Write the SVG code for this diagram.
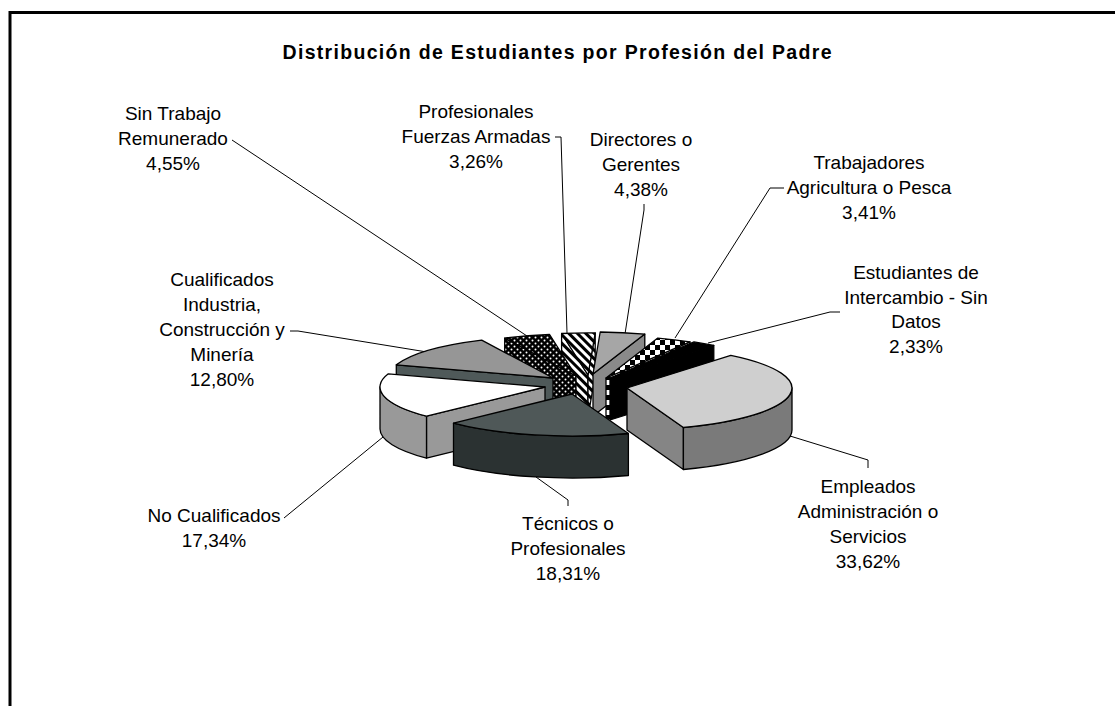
<svg xmlns="http://www.w3.org/2000/svg" width="1115" height="706" viewBox="0 0 1115 706">
<style>
.lbl{font-family:"Liberation Sans",Arial,sans-serif;font-size:19px;fill:#000;text-anchor:middle}
.ttl{font-family:"Liberation Sans",Arial,sans-serif;font-size:19.5px;font-weight:bold;fill:#000;text-anchor:middle}
.e{stroke:#000;stroke-width:1.3;stroke-linejoin:round}
.lead{fill:none;stroke:#000;stroke-width:1}
</style>
<defs>
<pattern id="dots" width="6" height="6" patternUnits="userSpaceOnUse">
<rect width="6" height="6" fill="#000"/>
<circle cx="1.5" cy="1.5" r="1" fill="#fff"/>
<circle cx="4.5" cy="4.5" r="1" fill="#fff"/>
</pattern>
<pattern id="hatch" width="6" height="6" patternUnits="userSpaceOnUse" patternTransform="rotate(45)">
<rect width="6" height="6" fill="#fff"/>
<rect width="6" height="3" fill="#000"/>
</pattern>
<pattern id="check" width="10" height="10" patternUnits="userSpaceOnUse">
<rect width="10" height="10" fill="#fff"/>
<rect width="5" height="5" fill="#000"/>
<rect x="5" y="5" width="5" height="5" fill="#000"/>
</pattern>
</defs>
<rect x="10" y="12.5" width="1200" height="800" fill="#fff" stroke="#000" stroke-width="3"/>
<text class="ttl" x="557" y="59" textLength="549" lengthAdjust="spacing">Distribución de Estudiantes por Profesión del Padre</text>

<g id="connectors">
<polyline class="lead" points="232,140 527,336"/>
<polyline class="lead" points="555,137 561,137 567,333"/>
<polyline class="lead" points="644,204 644,210 625,334"/>
<polyline class="lead" points="784,188 770,188 675,338"/>
<polyline class="lead" points="840,312 830,312 708,343"/>
<polyline class="lead" points="790,436 868,460 868,468"/>
<polyline class="lead" points="536,477 568,500 568,506"/>
<polyline class="lead" points="284,518 383,437"/>
<polyline class="lead" points="290,331 298,331 427,352"/>
</g>

<g id="slice-prof-fa">
<path class="e" fill="url(#hatch)" d="M588,375 L561.6,333.5 L561.6,375.5 L588,417 Z"/>
<path class="e" fill="url(#hatch)" d="M588,375 L595.2,333 L595.2,375 L588,417 Z"/>
<path class="e" fill="url(#hatch)" d="M588,375 L561.6,333.5 A165 42 0 0 1 595.2,333 Z"/>
</g>
<g id="slice-directores">
<path class="e" fill="#8a8a8a" d="M593,374 L644.8,334.1 L644.8,376.1 L593,416 Z"/>
<path class="e" fill="#a6a6a6" d="M593,374 L600.2,332 A165 42 0 0 1 644.8,334.1 Z"/>
</g>
<g id="slice-sin-trabajo">
<path class="e" fill="url(#dots)" d="M576,376 L504.7,338.1 L504.7,380.1 L576,418 Z"/>
<path class="e" fill="url(#dots)" d="M576,376 L504.7,338.1 A165 42 0 0 1 549.6,334.5 Z"/>
</g>
<g id="slice-trabajadores">
<path class="e" fill="url(#check)" d="M606,378 L690,341.9 L690,383.9 L606,420 Z"/>
<path class="e" fill="url(#check)" d="M606,378 L657.8,338.1 A165 42 0 0 1 690,341.9 Z"/>
</g>
<g id="slice-estudiantes">
<path class="e" fill="#000" d="M610,378 L713.8,345.4 L713.8,387.4 L610,420 Z"/>
<path class="e" fill="#000" d="M610,378 L694,341.9 A165 42 0 0 1 713.8,345.4 Z"/>
</g>
<g id="slice-cualificados">
<path class="e" fill="#4f5959" d="M553,378 L396.3,364.8 L396.3,406.8 L553,420 Z"/>
<path class="e" fill="#969696" d="M553,378 L396.3,364.8 A165 42 0 0 1 481.7,340.1 Z"/>
</g>
<g id="slice-empleados">
<path class="e" fill="#858585" d="M627,388 L683.4,427.5 L683.4,469.5 L627,430 Z"/>
<path class="e" fill="#7a7a7a" d="M792,388 A165 42 0 0 1 683.4,427.5 L683.4,469.5 A165 42 0 0 0 792,430 Z"/>
<path class="e" fill="#cfcfcf" d="M627,388 L730.8,355.4 A165 42 0 0 1 683.4,427.5 Z"/>
</g>
<g id="slice-no-cualificados">
<path class="e" fill="#999" d="M545,387 L426.5,416.2 L426.5,458.2 L545,429 Z"/>
<path class="e" fill="#999" d="M426.5,416.2 A165 42 0 0 1 380,387 L380,429 A165 42 0 0 0 426.5,458.2 Z"/>
<path class="e" fill="#fff" d="M545,387 L426.5,416.2 A165 42 0 0 1 388.3,373.8 Z"/>
</g>
<g id="slice-tecnicos">
<path class="e" fill="#2b3232" d="M628.4,433.5 A165 42 0 0 1 453.5,423.2 L453.5,465.2 A165 42 0 0 0 628.4,475.5 Z"/>
<path class="e" fill="#4f5858" d="M572,394 L628.4,433.5 A165 42 0 0 1 453.5,423.2 Z"/>
</g>

<g id="label-sin-trabajo"><text class="lbl" x="173" y="120">Sin Trabajo</text><text class="lbl" x="173" y="145">Remunerado</text><text class="lbl" x="173" y="170">4,55%</text></g>
<g id="label-prof-fa"><text class="lbl" x="476" y="118">Profesionales</text><text class="lbl" x="476" y="143">Fuerzas Armadas</text><text class="lbl" x="476" y="168">3,26%</text></g>
<g id="label-directores"><text class="lbl" x="641" y="146">Directores o</text><text class="lbl" x="641" y="171">Gerentes</text><text class="lbl" x="641" y="196">4,38%</text></g>
<g id="label-trabajadores"><text class="lbl" x="869" y="169">Trabajadores</text><text class="lbl" x="869" y="194">Agricultura o Pesca</text><text class="lbl" x="869" y="219">3,41%</text></g>
<g id="label-estudiantes"><text class="lbl" x="916" y="279">Estudiantes de</text><text class="lbl" x="916" y="304">Intercambio - Sin</text><text class="lbl" x="916" y="328">Datos</text><text class="lbl" x="916" y="353">2,33%</text></g>
<g id="label-empleados"><text class="lbl" x="868" y="493">Empleados</text><text class="lbl" x="868" y="518">Administración o</text><text class="lbl" x="868" y="543">Servicios</text><text class="lbl" x="868" y="568">33,62%</text></g>
<g id="label-tecnicos"><text class="lbl" x="568" y="530">Técnicos o</text><text class="lbl" x="568" y="555">Profesionales</text><text class="lbl" x="568" y="580">18,31%</text></g>
<g id="label-no-cualificados"><text class="lbl" x="214" y="522">No Cualificados</text><text class="lbl" x="214" y="547">17,34%</text></g>
<g id="label-cualificados"><text class="lbl" x="222" y="286">Cualificados</text><text class="lbl" x="222" y="311">Industria,</text><text class="lbl" x="222" y="336">Construcción y</text><text class="lbl" x="222" y="361">Minería</text><text class="lbl" x="222" y="386">12,80%</text></g>
</svg>
